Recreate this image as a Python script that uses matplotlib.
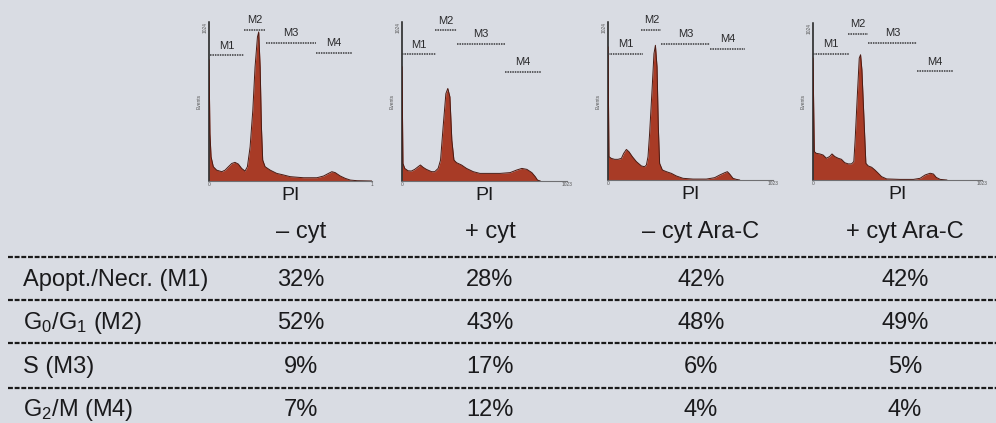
import matplotlib
matplotlib.use("Agg")
import matplotlib.pyplot as plt

plt.rcParams['font.family'] = ['Liberation Sans', 'DejaVu Sans']
plt.rcParams['mathtext.fontset'] = 'custom'
plt.rcParams['mathtext.rm'] = 'Liberation Sans'
plt.rcParams['mathtext.it'] = 'Liberation Sans:italic'

# ---------------- data ----------------
conditions = ["\u2013 cyt", "+ cyt", "\u2013 cyt Ara-C", "+ cyt Ara-C"]
row_labels = ["Apopt./Necr. (M1)", "G$_0$/G$_1$ (M2)", "S (M3)", "G$_2$/M (M4)"]
apopt_necr = [32, 28, 42, 42]
g0_g1 = [52, 43, 48, 49]
s_phase = [9, 17, 6, 5]
g2_m = [7, 12, 4, 4]
gate_names = ["M1", "M2", "M3", "M4"]

# histogram outlines (PI channel, events)
h1_ch = [0, 6, 13, 27, 48, 80, 101, 122, 143, 163, 184, 205, 226, 241, 258, 275, 289, 304, 312, 321,
         329, 337, 352, 384, 425, 467, 509, 593, 677, 719, 750, 771, 792, 824, 855, 887, 929, 1023]
h1_ct = [780, 306, 156, 92, 70, 60, 70, 92, 113, 120, 109, 81, 64, 92, 220, 456, 734, 927, 960, 734,
         349, 135, 92, 70, 49, 39, 28, 21, 21, 32, 49, 60, 54, 32, 17, 6, 2, 0]
h2_ch = [0, 6, 17, 37, 58, 79, 100, 114, 131, 151, 183, 203, 224, 239, 255, 272, 284, 297, 309, 322,
         338, 369, 400, 442, 483, 546, 608, 670, 712, 743, 774, 805, 826, 840, 857]
h2_ct = [735, 113, 81, 66, 64, 75, 92, 103, 88, 75, 60, 60, 81, 135, 349, 563, 596, 542, 263, 135,
         118, 103, 81, 60, 49, 49, 49, 54, 71, 81, 75, 54, 28, 6, 0]
h3_ch = [0, 6, 21, 41, 62, 83, 97, 114, 130, 151, 176, 207, 227, 238, 248, 258, 273, 285, 294, 304,
         312, 320, 337, 362, 393, 424, 465, 527, 610, 661, 692, 723, 740, 754, 775, 796, 816]
h3_ct = [862, 151, 140, 134, 134, 140, 172, 198, 183, 151, 119, 91, 86, 97, 151, 302, 582, 819, 873, 733,
         345, 108, 65, 54, 43, 26, 11, 6, 6, 15, 32, 47, 54, 39, 11, 4, 0]
h4_ch = [0, 8, 20, 41, 61, 81, 101, 115, 132, 152, 172, 192, 213, 233, 247, 255, 267, 280, 288, 296,
         308, 320, 334, 355, 375, 395, 415, 446, 527, 608, 648, 679, 709, 729, 746, 770, 810]
h4_ct = [795, 185, 174, 170, 163, 142, 153, 170, 153, 142, 135, 113, 105, 105, 120, 261, 523, 795, 817, 719,
         414, 109, 92, 83, 65, 44, 22, 7, 4, 4, 11, 33, 44, 39, 17, 4, 0]

# marker gates: start channel, end channel, drawn level
g1_start = [6, 220, 358, 673]; g1_end = [220, 352, 673, 897]; g1_level = [810, 975, 889, 827]
g2_start = [0, 203, 338, 639]; g2_end = [210, 338, 639, 861]; g2_level = [816, 970, 884, 703]
g3_start = [0, 207, 331, 630]; g3_end = [217, 331, 630, 852]; g3_level = [819, 974, 884, 852]
g4_start = [0, 213, 334, 628]; g4_end = [219, 334, 632, 847]; g4_level = [824, 954, 893, 708]

hist_x_max_label = ["1", "1023", "1023", "1023"]

# ---------------- layout ----------------
W, H = 996, 423
BG = '#d9dce3'
TXT = '#1a1a1c'
FILL = '#a83b26'
EDGE = '#4a1a12'

fig = plt.figure(figsize=(W / 100, H / 100), dpi=100)
fig.patch.set_facecolor(BG)

bg = fig.add_axes([0, 0, 1, 1])
bg.set_xlim(0, W)
bg.set_ylim(H, 0)
bg.axis('off')
bg.set_zorder(0)

# histograms
hist_boxes = [(209, 372, 22, 181), (402, 567, 22, 181), (608, 773, 22, 180), (813, 982, 23, 180)]
hists = [(h1_ch, h1_ct), (h2_ch, h2_ct), (h3_ch, h3_ct), (h4_ch, h4_ct)]
gates = [(g1_start, g1_end, g1_level), (g2_start, g2_end, g2_level),
         (g3_start, g3_end, g3_level), (g4_start, g4_end, g4_level)]

for (l, r, t, b), (ch, ct), (gs, ge, gl), xmax_lab in zip(hist_boxes, hists, gates, hist_x_max_label):
    ax = fig.add_axes([l / W, 1 - b / H, (r - l) / W, (b - t) / H])
    ax.set_facecolor('none')
    ax.set_zorder(2)
    ax.fill_between(ch, ct, 0, color=FILL, linewidth=0, zorder=2)
    ax.plot(ch, ct, color=EDGE, lw=0.7, zorder=3)
    ax.set_xlim(0, 1023)
    ax.set_ylim(0, 1024)
    for s in ['top', 'right']:
        ax.spines[s].set_visible(False)
    ax.spines['left'].set_color('#1a1a1a')
    ax.spines['left'].set_linewidth(1.1)
    ax.spines['bottom'].set_color('#6f6f72')
    ax.spines['bottom'].set_linewidth(0.8)
    ax.set_xticks([0, 1023])
    ax.set_xticklabels(["0", xmax_lab])
    ax.set_yticks([1024])
    ax.set_yticklabels(["1024"], rotation=90, va='top')
    ax.tick_params(length=0, labelsize=3.5, colors='#555555', pad=1)
    ax.set_ylabel("Events", fontsize=3.5, color='#555555', labelpad=1)
    ax.set_xlabel("PI", fontsize=14, color=TXT, labelpad=0)
    for name, s0, s1, lv in zip(gate_names, gs, ge, gl):
        ax.plot([s0, s1], [lv, lv], color='#3a3a3c', lw=1.1, ls=(0, (1, 0.6)),
                clip_on=False, zorder=4)
        ax.annotate(name, ((s0 + s1) / 2, lv), xytext=(0, 7), textcoords='offset points',
                    ha='center', va='center', fontsize=8, color='#2a2a2c',
                    annotation_clip=False)

# table
col_x = [301, 490, 701, 905]
header_y = 232
row_y = [280, 323, 367, 410]
line_y = [257, 300, 343, 388]
table_rows = [apopt_necr, g0_g1, s_phase, g2_m]

for cx, name in zip(col_x, conditions):
    bg.text(cx, header_y, name, fontsize=17, color=TXT, ha='center', va='center')

for yy in line_y:
    bg.plot([8, W], [yy, yy], color='#1a1a1a', lw=1.6, ls=(0, (2.2, 0.8)), zorder=1)

for yy, lab, vals in zip(row_y, row_labels, table_rows):
    bg.text(23, yy, lab, fontsize=17, color=TXT, ha='left', va='center')
    for cx, v in zip(col_x, vals):
        bg.text(cx, yy, f"{v}%", fontsize=17, color=TXT, ha='center', va='center')

fig.savefig("out.png", dpi=100, facecolor=BG)
